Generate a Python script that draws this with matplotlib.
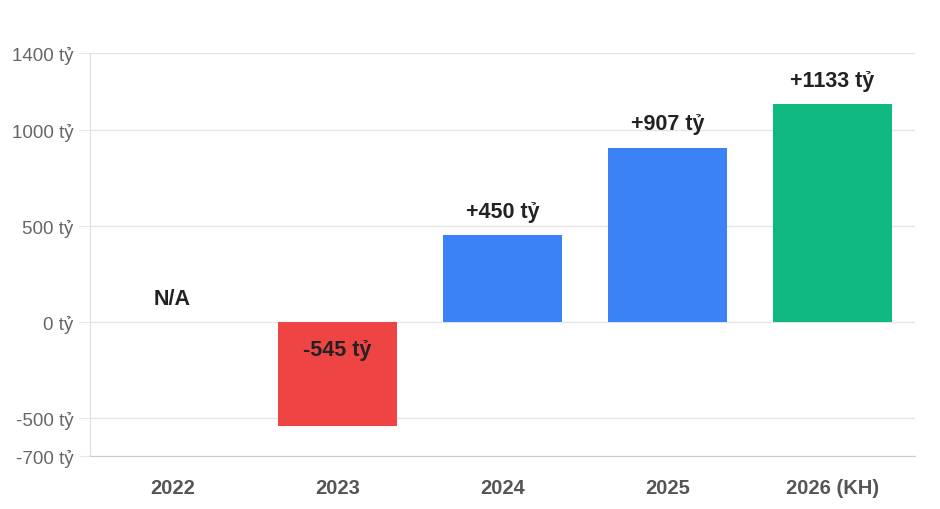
import numpy as np
import matplotlib
matplotlib.use("Agg")
import matplotlib.pyplot as plt

plt.rcParams['font.family'] = ['Liberation Sans', 'DejaVu Sans']

# data
years = ['2022', '2023', '2024', '2025', '2026 (KH)']
profit = [None, -545, 450, 907, 1133]   # ty dong, 2022 = N/A
colors = ['#cccccc', '#ef4444', '#3b82f6', '#3b82f6', '#10b981']
yticks = [-700, -500, 0, 500, 1000, 1400]

fig = plt.figure(figsize=(9.4, 5.1), dpi=100)
ax = fig.add_axes([90/940, 53/510, 825/940, 403/510])

x = np.arange(len(years))
vals = [0 if v is None else v for v in profit]
ax.bar(x, vals, width=0.72, color=colors, zorder=2)

for i, v in enumerate(profit):
    if v is None:
        txt, y, off, va = 'N/A', 0, 9, 'bottom'
    elif v >= 0:
        txt, y, off, va = '+%d tỷ' % v, v, 9.5, 'bottom'
    else:
        txt, y, off, va = '%d tỷ' % v, 0, -12.5, 'top'
    ax.annotate(txt, (i, y), xytext=(0, off), textcoords='offset points',
                ha='center', va=va, fontsize=15.5, fontweight='bold', color='#222222')

ax.set_xlim(-0.5, len(years) - 0.5)
ax.set_ylim(-700, 1400)
ax.set_yticks(yticks)
ax.set_yticklabels(['%d tỷ' % t for t in yticks])
ax.set_xticks(x)
ax.set_xticklabels(years, fontweight='bold')

ax.grid(axis='y', color='#e6e6e6', linewidth=1, zorder=0)
ax.tick_params(axis='y', length=8, color='#e6e6e6', labelsize=13.5, labelcolor='#666666', pad=4)
ax.tick_params(axis='x', length=0, labelsize=14.5, labelcolor='#555555', pad=16)
for s in ['top', 'right']:
    ax.spines[s].set_visible(False)
ax.spines['left'].set_color('#dddddd')
ax.spines['bottom'].set_color('#cccccc')

fig.savefig('out.png', dpi=100)
